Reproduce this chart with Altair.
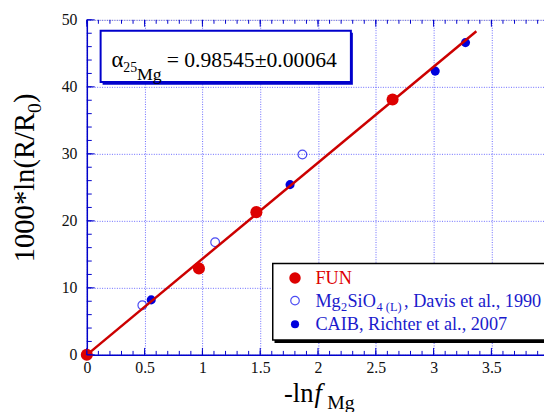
import altair as alt
import pandas as pd

# ---------------- data ----------------
fun_x = [0.0, 0.97, 1.467, 2.645]
fun_y = [0.0, 12.9, 21.3, 38.1]
davis_x = [0.48, 1.11, 1.865]
davis_y = [7.4, 16.8, 29.9]
richter_x = [0.557, 1.758, 3.014, 3.276]
richter_y = [8.2, 25.4, 42.35, 46.6]
fit_x = [0.0, 3.37]
fit_y = [0.0, 48.3]

x_major = [0, 0.5, 1, 1.5, 2, 2.5, 3, 3.5]
y_major = [0, 10, 20, 30, 40, 50]
x_minor = [round(i * 0.1, 1) for i in range(0, 40)]
y_minor = list(range(0, 51, 2))

series_names = ["FUN", "Davis", "CAIB, Richter et al., 2007"]
annot_value = "= 0.98545\u00b10.00064"

# ---------------- styles ----------------
SERIF = "'Liberation Serif', 'Times New Roman', Times, 'DejaVu Serif', 'Noto Serif', serif"
BLUE = "#0000cc"
RED = "#dd0000"
LINE_RED = "#cc0000"
TXT_BLUE = "#1a1acc"

W, H = 464, 340
x_scale = alt.Scale(domain=[0, 3.955], nice=False, zero=False)
y_scale = alt.Scale(domain=[0, 50], nice=False, zero=False)

x_axis = alt.Axis(values=x_major, format=".1~f", grid=True, gridColor="#0000ff",
                  gridOpacity=0.6, gridDash=[1, 1.5], gridWidth=1, ticks=False,
                  domainColor=BLUE, domainWidth=1.5, labelFont=SERIF, labelFontSize=16,
                  labelColor="#111111", labelPadding=5, labelFlush=False,
                  labelOverlap=False, title=None)
y_axis = alt.Axis(values=y_major, grid=True, gridColor="#0000ff", gridOpacity=0.6,
                  gridDash=[1, 1.5], gridWidth=1, ticks=False, domainColor=BLUE,
                  domainWidth=1.5, labelFont=SERIF, labelFontSize=16,
                  labelColor="#111111", labelPadding=10, labelOverlap=False, title=None)


def X(field="x"):
    return alt.X(f"{field}:Q", scale=x_scale, axis=x_axis)


def Y(field="y"):
    return alt.Y(f"{field}:Q", scale=y_scale, axis=y_axis)


one = pd.DataFrame({"k": [0]})


def text(s, x, y, size, color="black", angle=0, italic=False, align="left"):
    return alt.Chart(one).mark_text(
        text=s, font=SERIF, fontSize=size, color=color, align=align,
        baseline="alphabetic", angle=angle, fontStyle="italic" if italic else "normal"
    ).encode(x=alt.value(x), y=alt.value(y))


def rect(x, x2, y, y2, fill, stroke=None, sw=0):
    kw = dict(fill=fill)
    if stroke:
        kw.update(stroke=stroke, strokeWidth=sw)
    return alt.Chart(one).mark_rect(**kw).encode(
        x=alt.value(x), x2=alt.value(x2), y=alt.value(y), y2=alt.value(y2))


# ---------------- data layers ----------------
df_fun = pd.DataFrame({"x": fun_x, "y": fun_y})
df_davis = pd.DataFrame({"x": davis_x, "y": davis_y})
df_rich = pd.DataFrame({"x": richter_x, "y": richter_y})
df_fit = pd.DataFrame({"x": fit_x, "y": fit_y})

davis = alt.Chart(df_davis).mark_point(shape="circle", filled=False, size=78,
                                       color="#0000ee", strokeWidth=1.2).encode(x=X(), y=Y())
rich = alt.Chart(df_rich).mark_circle(size=85, color="#0000dd", opacity=1).encode(x=X(), y=Y())
fit = alt.Chart(df_fit).mark_line(color=LINE_RED, strokeWidth=2.5).encode(x=X(), y=Y())
fun = alt.Chart(df_fun).mark_circle(size=150, color=RED, opacity=1).encode(x=X(), y=Y())

# ---------------- inward ticks ----------------
dxm = pd.DataFrame({"x": x_major})
dxn = pd.DataFrame({"x": x_minor})
dym = pd.DataFrame({"y": y_major})
dyn = pd.DataFrame({"y": y_minor})
tk = dict(color=BLUE, strokeWidth=1)
ticks = [
    alt.Chart(dxn).mark_rule(**tk).encode(x=X(), y=alt.value(H), y2=alt.value(H - 4)),
    alt.Chart(dxm).mark_rule(**tk).encode(x=X(), y=alt.value(H), y2=alt.value(H - 7)),
    alt.Chart(dxn).mark_rule(**tk).encode(x=X(), y=alt.value(0), y2=alt.value(4)),
    alt.Chart(dxm).mark_rule(**tk).encode(x=X(), y=alt.value(0), y2=alt.value(7)),
    alt.Chart(dyn).mark_rule(**tk).encode(y=Y(), x=alt.value(0), x2=alt.value(5)),
    alt.Chart(dym).mark_rule(**tk).encode(y=Y(), x=alt.value(0), x2=alt.value(8)),
]

# ---------------- annotation box ----------------
annot = [
    rect(16, 270, 13, 66, BLUE),
    rect(14, 268, 11, 63, "white", BLUE, 2),
    text("\u03b1", 25, 47.5, 23),
    text("25", 37, 53, 14),
    text("Mg", 51, 61, 18),
    text(annot_value, 81, 48, 22),
]

# ---------------- legend ----------------
leg_x, leg_tx = 211.3, 232
LF, SF = 18.5, 12.5
legend = [
    rect(190.5, 470, 249.5, 328, "black"),
    rect(188.7, 468, 247.3, 325, "white", "black", 1.5),
    alt.Chart(one).mark_circle(size=135, color=RED, opacity=1).encode(
        x=alt.value(leg_x), y=alt.value(262)),
    alt.Chart(one).mark_point(shape="circle", filled=False, size=75, color="#0000ee",
                              strokeWidth=1.2).encode(x=alt.value(leg_x), y=alt.value(285)),
    alt.Chart(one).mark_circle(size=68, color="#0000dd", opacity=1).encode(
        x=alt.value(leg_x), y=alt.value(309)),
    text(series_names[0], leg_tx, 268, LF, RED),
    text("Mg", leg_tx, 291, LF, TXT_BLUE),
    text("2", leg_tx + 26, 295, SF, TXT_BLUE),
    text("SiO", leg_tx + 32.5, 291, LF, TXT_BLUE),
    text("4", leg_tx + 62, 296, SF, TXT_BLUE),
    text("(L)", leg_tx + 71.5, 296, SF, TXT_BLUE),
    text(", Davis et al., 1990", leg_tx + 90, 291, LF, TXT_BLUE),
    text(series_names[2], leg_tx, 315, LF, TXT_BLUE),
]

# ---------------- axis titles ----------------
titles = [
    text("1000*ln(R/R", -54, 246, 29, angle=270),
    text("0", -47, 94.5, 20, angle=270),
    text(")", -54, 84.5, 29, angle=270),
    text("-ln", 200, 388, 27),
    text("f", 231, 388, 27, italic=True),
    text("Mg", 244, 395, 20),
]

chart = alt.layer(
    davis, rich, fit, fun, *ticks, *annot, *legend, *titles
).properties(
    width=W, height=H,
    autosize=alt.AutoSizeParams(type="none"),
    padding={"left": 80, "top": 9, "right": 0, "bottom": 55},
).configure_view(stroke=BLUE, strokeWidth=1.5).configure(background="white")

chart.save("out.html", embed_options={"renderer": "svg", "actions": False})
